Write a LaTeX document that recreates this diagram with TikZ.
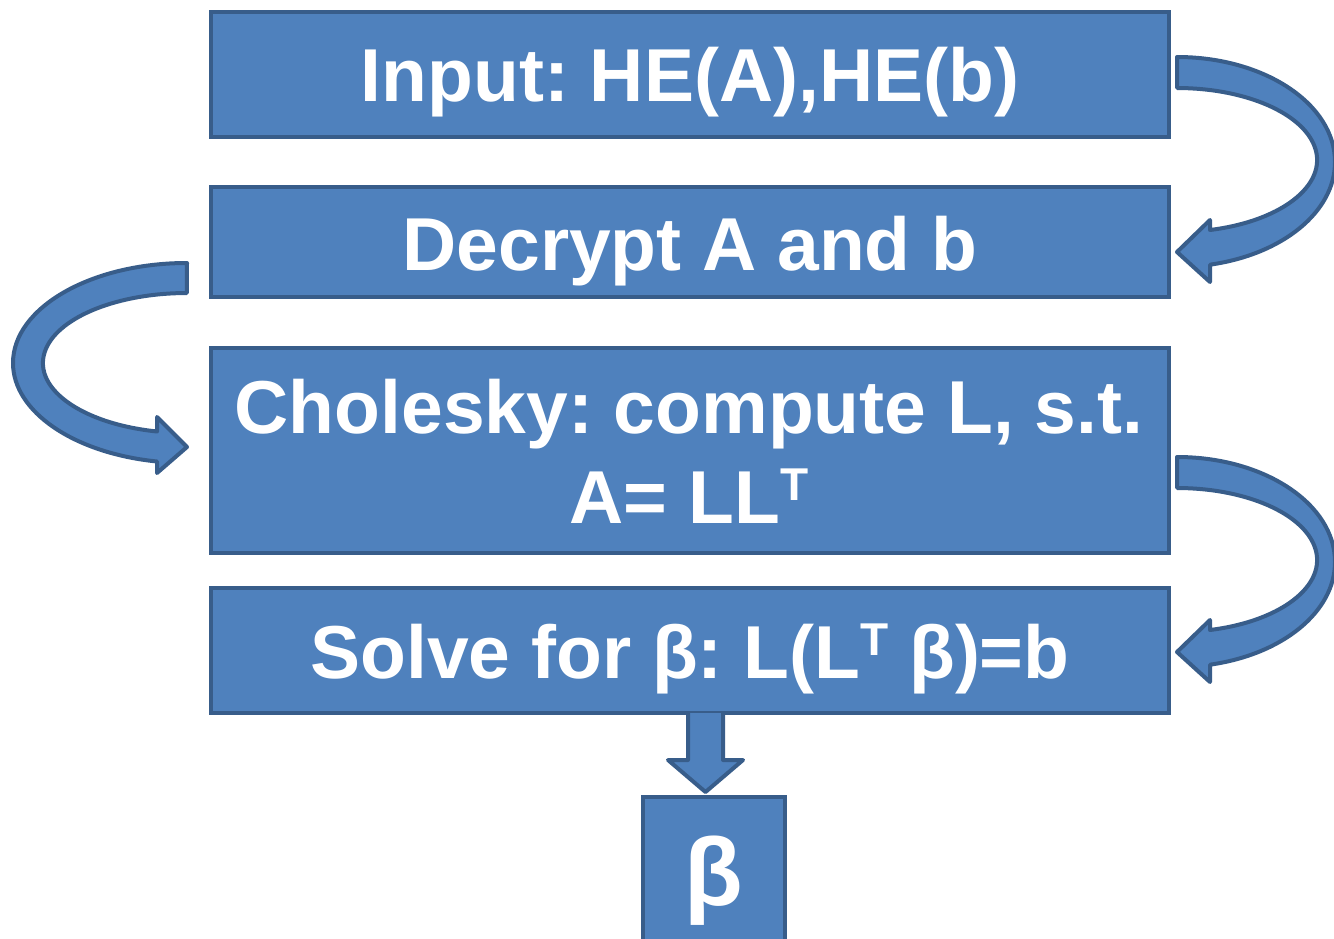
\documentclass[tikz,border=0pt]{standalone}
\usepackage{fontspec}
\setmainfont{Liberation Sans}
\usetikzlibrary{calc}
\definecolor{boxfill}{HTML}{4F81BD}
\definecolor{boxline}{HTML}{385D8A}
\tikzset{
  box/.style={draw=boxline, fill=boxfill, line width=4pt, rectangle, inner sep=0pt, outer sep=0pt},
  lbl/.style={text=white, font=\bfseries\fontsize{75}{90}\selectfont, inner sep=0pt, anchor=base},
  barrow/.style={draw=boxline, fill=boxfill, line width=4pt, line join=round}
}
\newcommand{\supT}{\raisebox{23pt}{\fontsize{46}{46}\selectfont T}}
\frenchspacing
\begin{document}
\begin{tikzpicture}[x=1pt,y=-1pt]
\clip (0,0) rectangle (1334,939);
\fill[white] (0,0) rectangle (1334,939);
% boxes
\node[box, minimum width=958, minimum height=125] (b1) at (690,74.5) {};
\node[box, minimum width=958, minimum height=110] (b2) at (690,242) {};
\node[box, minimum width=958, minimum height=205] (b3) at (690,450.5) {};
\node[box, minimum width=958, minimum height=125] (b4) at (690,650.5) {};
% down arrow
\draw[barrow] (688,713) -- (688,760) -- (668,760) -- (705.5,792) -- (743,760) -- (723,760) -- (723,713);
\node[box, minimum width=142, minimum height=161] (b5) at (714,877.5) {};
% texts
\node[lbl] (t1) at (690,102) {Input: HE(A),HE(b)};
\node[lbl] (t2) at (690,270) {Decrypt A and b};
\node[lbl] (t3a) at (689,433) {Cholesky: compute L, s.t.};
\node[lbl] (t3b) at (689,523) {A= LL\supT};
\node[lbl] (t4) at (690,678) {Solve for β: L(L\supT{} β)=b};
\node[lbl, font=\bfseries\fontsize{96}{96}\selectfont] (t5) at (714,905) {β};
% curved arrows
\draw[barrow] (1177,57) arc[start angle=-90, end angle=77.9, x radius=158, y radius=105]
  -- (1210,282) -- (1177,252) -- (1210,220) -- (1210,230)
  arc[start angle=76.4, end angle=-90, x radius=140, y radius=72] -- cycle;
\draw[barrow] (187,263) arc[start angle=270, end angle=99.9, x radius=174, y radius=100]
  -- (157,473) -- (187,447) -- (157,417) -- (157,431.5)
  arc[start angle=102, end angle=270, x radius=144, y radius=70] -- cycle;
\begin{scope}[shift={(0,400)}]
\draw[barrow] (1177,57) arc[start angle=-90, end angle=77.9, x radius=158, y radius=105]
  -- (1210,282) -- (1177,252) -- (1210,220) -- (1210,230)
  arc[start angle=76.4, end angle=-90, x radius=140, y radius=72] -- cycle;
\end{scope}
\end{tikzpicture}
\end{document}
